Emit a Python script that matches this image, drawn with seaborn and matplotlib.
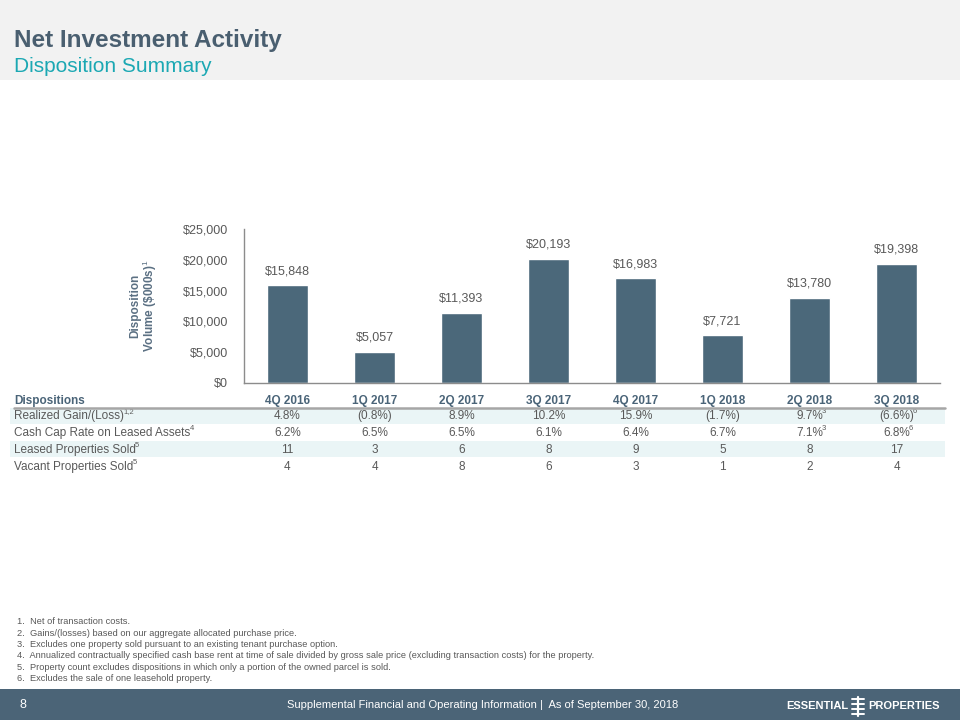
import matplotlib
matplotlib.use("Agg")
import matplotlib.pyplot as plt
import matplotlib.transforms as mtransforms
from matplotlib.patches import Rectangle
from matplotlib.lines import Line2D
import seaborn as sns
import pandas as pd

# ---- data ----
quarters = ["4Q 2016", "1Q 2017", "2Q 2017", "3Q 2017", "4Q 2017", "1Q 2018", "2Q 2018", "3Q 2018"]
volume = [15848, 5057, 11393, 20193, 16983, 7721, 13780, 19398]
gain = ["4.8%", "(0.8%)", "8.9%", "10.2%", "15.9%", "(1.7%)", "9.7%", "(6.6%)"]
gain_sup = ["", "", "", "", "", "", "3", "6"]
cap_rate = ["6.2%", "6.5%", "6.5%", "6.1%", "6.4%", "6.7%", "7.1%", "6.8%"]
cap_sup = ["", "", "", "", "", "", "3", "6"]
leased_sold = ["11", "3", "6", "8", "9", "5", "8", "17"]
vacant_sold = ["4", "4", "8", "6", "3", "1", "2", "4"]
row_labels = ["Realized Gain/(Loss)", "Cash Cap Rate on Leased Assets",
              "Leased Properties Sold", "Vacant Properties Sold"]
row_label_sup = ["1,2", "4", "5", "5"]
yticks = [0, 5000, 10000, 15000, 20000, 25000]
footnotes = [
    "1.  Net of transaction costs.",
    "2.  Gains/(losses) based on our aggregate allocated purchase price.",
    "3.  Excludes one property sold pursuant to an existing tenant purchase option.",
    "4.  Annualized contractually specified cash base rent at time of sale divided by gross sale price (excluding transaction costs) for the property.",
    "5.  Property count excludes dispositions in which only a portion of the owned parcel is sold.",
    "6.  Excludes the sale of one leasehold property.",
]

sns.set_style("white")
plt.rcParams["font.family"] = ["Liberation Sans", "DejaVu Sans"]
plt.rcParams["mathtext.fontset"] = "custom"
plt.rcParams["mathtext.rm"] = "Liberation Sans"
plt.rcParams["mathtext.it"] = "Liberation Sans"
plt.rcParams["mathtext.bf"] = "Liberation Sans:bold"

W, H = 960, 720
fig = plt.figure(figsize=(9.6, 7.2), dpi=100)
fig.patch.set_facecolor("white")

def fx(px):
    return px / W

def fy(py):
    return 1 - py / H

BAR = "#4B687A"
TXT = "#595959"
HEAD = "#4A6478"

# header band
fig.patches.append(Rectangle((0, fy(80)), 1, 80 / H, transform=fig.transFigure,
                             facecolor="#F2F2F2", edgecolor="none", zorder=-1))
fig.text(fx(14), fy(40), "Net Investment Activity", fontsize=17.5, fontweight="bold",
         color="#4A5F70", va="center", ha="left")
fig.text(fx(14), fy(67), "Disposition Summary", fontsize=15, color="#1BA8B3",
         va="center", ha="left")

# footer band
fig.patches.append(Rectangle((0, 0), 1, 31 / H, transform=fig.transFigure,
                             facecolor="#4B6477", edgecolor="none", zorder=-1))
fig.text(fx(20), fy(705), "8", fontsize=9, color="white", va="center", ha="left")
fig.text(fx(483), fy(705), "Supplemental Financial and Operating Information |  As of September 30, 2018",
         fontsize=8, color="white", va="center", ha="center")
fig.text(fx(848), fy(706), "ESSENTIAL", fontsize=8, fontweight="bold", color="white",
         va="center", ha="right")
fig.text(fx(868), fy(706), "PROPERTIES", fontsize=8, fontweight="bold", color="white",
         va="center", ha="left")
fig.lines.append(Line2D([fx(858), fx(858)], [fy(697), fy(716)], transform=fig.transFigure,
                        color="white", lw=1.6))
for yy in [699, 704, 709, 714]:
    fig.lines.append(Line2D([fx(852), fx(864)], [fy(yy), fy(yy)], transform=fig.transFigure,
                            color="white", lw=1.4))

# ---- bar chart ----
ax = fig.add_axes([fx(244), fy(383), fx(940) - fx(244), (383 - 229) / H])
df = pd.DataFrame({"quarter": quarters, "volume": volume})
sns.barplot(data=df, x="quarter", y="volume", color=BAR, saturation=1, width=0.48, ax=ax)
ax.set_ylim(0, 25000)
ax.set_xlim(-0.5, len(quarters) - 0.5)
ax.set_yticks(yticks)
ax.set_yticklabels([f"${v:,.0f}" for v in yticks], fontsize=9, color=TXT)
ax.set_xticks([])
ax.set_xlabel("")
ax.set_ylabel("Disposition\nVolume (\\$000s)$^{1}$", fontsize=8.5, fontweight="bold",
              color="#5B7083", labelpad=17, linespacing=0.95)
ax.tick_params(axis="y", length=0, pad=11.5)
for s in ["top", "right"]:
    ax.spines[s].set_visible(False)
for s in ["left", "bottom"]:
    ax.spines[s].set_color("#8C8C8C")
    ax.spines[s].set_linewidth(1.0)
for i, v in enumerate(volume):
    ax.annotate(f"${v:,.0f}", (i, v), xytext=(0, 6), textcoords="offset points",
                ha="center", va="bottom", fontsize=9, color=TXT)

# ---- table ----
def sup_after(txt_artist, s):
    if s:
        ax.annotate(s, xy=(1, 0.55), xycoords=txt_artist, xytext=(-0.6, 0),
                    textcoords="offset points", ha="left", va="bottom",
                    fontsize=5.5, color=TXT, annotation_clip=False)

tr = mtransforms.blended_transform_factory(ax.transData, fig.transFigure)
for top, bot in [(408, 424), (441, 457)]:
    fig.patches.append(Rectangle((fx(10), fy(bot)), fx(945) - fx(10), (bot - top) / H,
                                 transform=fig.transFigure, facecolor="#EAF5F6",
                                 edgecolor="none", zorder=-1))
fig.lines.append(Line2D([fx(14), fx(945)], [fy(408), fy(408)], transform=fig.transFigure,
                        color="#A6A6A6", lw=1.8))
fig.text(fx(14), fy(404), "Dispositions", fontsize=8.5, fontweight="bold", color=HEAD,
         va="baseline", ha="left")
for i, q in enumerate(quarters):
    fig.text(i, fy(404), q, fontsize=8.5, fontweight="bold", color=HEAD, va="baseline",
             ha="center", transform=tr)

rows = [gain, cap_rate, leased_sold, vacant_sold]
sups = [gain_sup, cap_sup, [""] * 8, [""] * 8]
row_base = [419, 436, 453, 470]
for lab, lsup, vals, vsup, yy in zip(row_labels, row_label_sup, rows, sups, row_base):
    t = fig.text(fx(14), fy(yy), lab, fontsize=8.5, color=TXT, va="baseline", ha="left")
    sup_after(t, lsup)
    for i, (v, s) in enumerate(zip(vals, vsup)):
        t = fig.text(i, fy(yy), v, fontsize=8.5, color=TXT, va="baseline", ha="center",
                     transform=tr)
        sup_after(t, s)

# ---- footnotes ----
for t, yy in zip(footnotes, [624.5, 635.8, 647.1, 658.4, 669.7, 681.0]):
    fig.text(fx(17), fy(yy), t, fontsize=6.7, color=TXT, va="baseline", ha="left")

fig.savefig("out.png", dpi=100, facecolor=fig.get_facecolor())
